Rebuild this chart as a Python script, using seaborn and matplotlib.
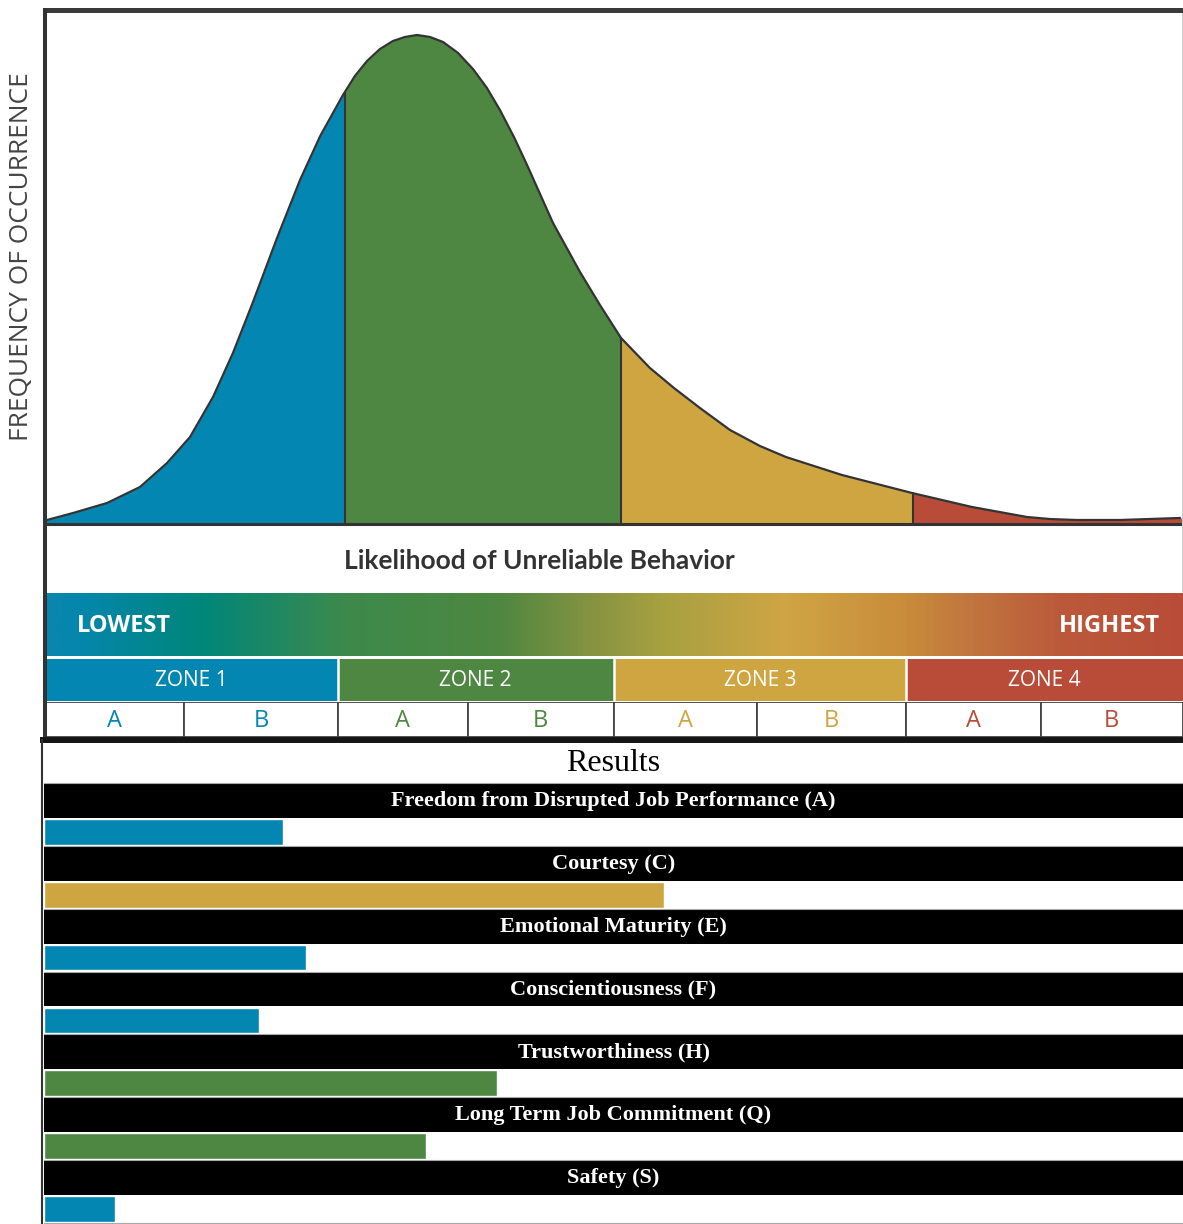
import numpy as np
import pandas as pd
import matplotlib
matplotlib.use("Agg")
import matplotlib.pyplot as plt
from matplotlib.colors import LinearSegmentedColormap
from matplotlib.patches import Rectangle
import seaborn as sns

sns.set_theme(style="white")
plt.rcParams["font.family"] = ["Open Sans", "DejaVu Sans"]

W, H = 1183, 1224

# --- data -------------------------------------------------------------
# distribution curve (likelihood 0-100, frequency 0-100)
curve_x = [0.26, 2.55, 5.53, 8.43, 10.80, 12.82, 14.84, 16.59, 18.35, 20.46,
           22.48, 24.25, 26.25, 27.30, 28.36, 29.50, 30.64, 31.69, 32.75,
           33.89, 35.03, 36.35, 37.66, 38.89, 40.03, 41.26, 42.41, 43.55,
           44.69, 47.06, 48.81, 50.66, 53.20, 55.31, 57.59, 60.23, 62.86,
           65.14, 70.06, 76.21, 81.47, 86.30, 88.30, 90.61, 94.47, 99.74]
curve_f = [0.82, 2.25, 4.29, 7.57, 12.47, 17.79, 25.97, 34.97, 45.40, 58.49,
           70.35, 79.35, 87.73, 91.62, 94.68, 97.14, 98.77, 99.59, 100.0,
           99.59, 98.57, 96.32, 93.05, 89.16, 84.66, 79.14, 73.42, 67.48,
           61.55, 51.53, 44.79, 38.04, 31.90, 27.81, 23.72, 19.22, 15.95,
           13.70, 10.02, 6.34, 3.48, 1.43, 1.02, 0.82, 0.82, 1.23]
curve_cuts = [26.4, 50.7, 76.3]

zone_names = ["ZONE 1", "ZONE 2", "ZONE 3", "ZONE 4"]
zone_colors = ["#0387B2", "#4E8742", "#CFA542", "#B84C38"]
zone_cuts = [25.8, 50.0, 75.7]
sub_cuts = [12.3, 37.2, 62.6, 87.5]

grad_pos = [0, 3, 13.6, 26.3, 39.8, 48.8, 53.8, 65.0, 75.8, 80.8, 89.3, 100]
grad_cols = ["#0A86B0", "#0586AC", "#00867A", "#3D8A4C", "#4E8740", "#8A9442",
             "#A5A040", "#CFA545", "#C88C3A", "#C27840", "#BB5A3A", "#B84C38"]

scales = ["Freedom from Disrupted Job Performance (A)", "Courtesy (C)",
          "Emotional Maturity (E)", "Conscientiousness (F)",
          "Trustworthiness (H)", "Long Term Job Commitment (Q)", "Safety (S)"]
scores = [21.0, 54.4, 23.0, 18.9, 39.8, 33.5, 6.2]

DARK = "#333333"


def px_axes(fig, x0, y0, x1, y1):
    return fig.add_axes([x0 / W, 1 - y1 / H, (x1 - x0) / W, (y1 - y0) / H])


def zone_of(v):
    return int(np.searchsorted(zone_cuts, v))


fig = plt.figure(figsize=(W / 100, H / 100), dpi=100)

# --- curve ------------------------------------------------------------
ax = px_axes(fig, 44, 12, 1183, 524)
edges = [0.0] + curve_cuts + [100.0]
for k in range(4):
    lo, hi = edges[k], edges[k + 1]
    xs = [lo] + [x for x in curve_x if lo < x < hi] + [hi]
    ys = np.interp(xs, curve_x, curve_f)
    ax.fill_between(xs, 0, ys, color=zone_colors[k], lw=0)
for c in curve_cuts:
    ax.plot([c, c], [0, np.interp(c, curve_x, curve_f)], color=DARK, lw=1.5)
sns.lineplot(x=curve_x, y=curve_f, color=DARK, lw=1.6, ax=ax, sort=False,
             solid_joinstyle="round")
ax.set_xlim(0, 100)
ax.set_ylim(0, 104.7)
ax.axis("off")

# --- gradient bar -----------------------------------------------------
cmap = LinearSegmentedColormap.from_list(
    "risk", list(zip(np.array(grad_pos) / 100, grad_cols)))
gax = px_axes(fig, 44, 593, 1183, 656)
gax.imshow(np.linspace(0, 1, 1200)[None, :], aspect="auto", cmap=cmap,
           extent=[0, 100, 0, 1])
gax.set_xlim(0, 100)
gax.set_ylim(0, 1)
gax.text(2.9, 0.47, "LOWEST", color="white", fontsize=17, fontweight="bold",
         ha="left", va="center")
gax.text(98.0, 0.47, "HIGHEST", color="white", fontsize=17, fontweight="bold",
         ha="right", va="center")
gax.axis("off")

# --- zone row ---------------------------------------------------------
zax = px_axes(fig, 44, 659, 1183, 701)
zedges = [0.0] + zone_cuts + [100.0]
for k in range(4):
    zax.axvspan(zedges[k], zedges[k + 1], color=zone_colors[k], lw=0)
    zax.text((zedges[k] + zedges[k + 1]) / 2, 0.5, zone_names[k], color="white",
             fontsize=15, ha="center", va="center")
for c in zone_cuts:
    zax.axvline(c, color="white", lw=1.8)
zax.set_xlim(0, 100)
zax.set_ylim(0, 1)
zax.axis("off")

# --- A / B row --------------------------------------------------------
aax = px_axes(fig, 44, 702, 1183, 737)
cells = sorted(zone_cuts + sub_cuts)
cedges = [0.0] + cells + [100.0]
for j in range(len(cedges) - 1):
    aax.add_patch(Rectangle((cedges[j], 0), cedges[j + 1] - cedges[j], 1,
                            facecolor="white", edgecolor="#444444", lw=1.3))
    aax.text((cedges[j] + cedges[j + 1]) / 2, 0.47, "AB"[j % 2],
             color=zone_colors[j // 2], fontsize=17, ha="center", va="center")
aax.set_xlim(0, 100)
aax.set_ylim(0, 1)
aax.axis("off")

# --- results ----------------------------------------------------------
df = pd.DataFrame({"scale": scales, "score": scores})
pal = {s: zone_colors[zone_of(v)] for s, v in zip(scales, scores)}
rax = px_axes(fig, 44, 743, 1183, 1224)
for i, s in enumerate(scales):
    rax.axhspan(i - 0.762, i - 0.222, color="black", lw=0)
    rax.axhline(i + 0.222, color="#aaaaaa", lw=0.8)
    rax.text(50, i - 0.49, s, color="white", fontsize=16, fontweight="bold",
             family="Liberation Serif", ha="center", va="center")
sns.barplot(data=df, x="score", y="scale", hue="scale", palette=pal,
            orient="h", width=0.41, saturation=1, legend=False, ax=rax)
rax.axhline(-0.778, color="#aaaaaa", lw=0.8)
rax.text(50, -1.09, "Results", color="black", fontsize=23,
         family="Liberation Serif", ha="center", va="center")
rax.set_xlim(0, 100)
rax.set_ylim(6.238, -1.413)
rax.axis("off")

# --- frame, labels ----------------------------------------------------
ov = fig.add_axes([0, 0, 1, 1])
ov.set_zorder(10)
ov.patch.set_alpha(0)
ov.set_xlim(0, W)
ov.set_ylim(H, 0)
ov.axis("off")
ov.plot([44, W], [10, 10], color="#3a3a3a", lw=3.6, solid_capstyle="butt")
ov.plot([45, 45], [8, 740], color=DARK, lw=2.9, solid_capstyle="butt")
ov.plot([44, W], [524, 524], color=DARK, lw=2.2, solid_capstyle="butt")
ov.plot([1182, 1182], [13, 592], color="#cccccc", lw=0.8)
ov.plot([40, W], [739.5, 739.5], color="#151515", lw=4.3, solid_capstyle="butt")
ov.plot([42, 42], [740, H], color=DARK, lw=1.5)
ov.text(539, 561, "Likelihood of Unreliable Behavior", color=DARK, fontsize=19,
        fontweight="bold", family=["Liberation Sans Narrow", "Lato", "DejaVu Sans"],
        ha="center", va="center")
ov.text(22, 257, "FREQUENCY OF OCCURRENCE", color="#444444", fontsize=18.9,
        rotation=90, ha="center", va="center")

fig.savefig("out.png", dpi=100)
